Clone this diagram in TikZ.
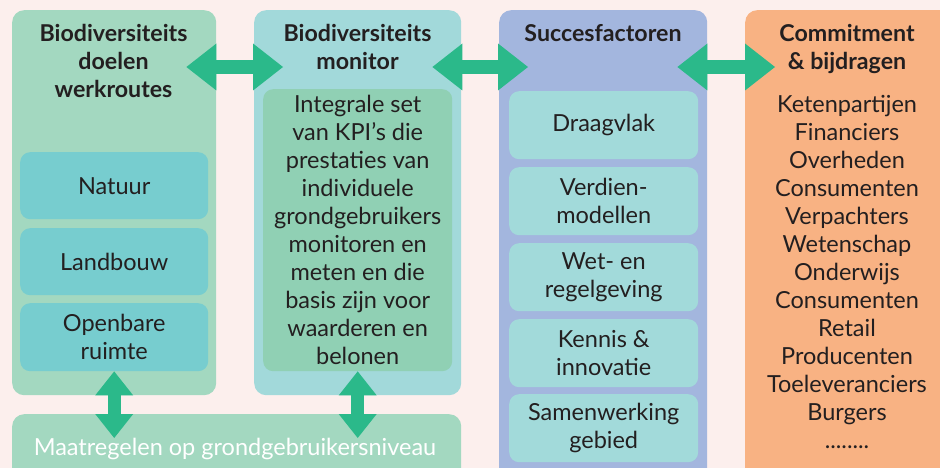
\documentclass[tikz,border=0pt]{standalone}
\usepackage{fontspec}
\setmainfont{Lato}
\usetikzlibrary{arrows.meta}

\definecolor{achtergrond}{HTML}{FCEFED}
\definecolor{doelenkleur}{HTML}{A3D8C0}
\definecolor{monitorkleur}{HTML}{A2D9DA}
\definecolor{succeskleur}{HTML}{A3B6DE}
\definecolor{commitkleur}{HTML}{F8B283}
\definecolor{werkroutekleur}{HTML}{77CDCF}
\definecolor{kpikleur}{HTML}{90D0B4}
\definecolor{factorkleur}{HTML}{A2DADA}
\definecolor{pijlgroen}{HTML}{2BB98A}
\definecolor{tekstkleur}{HTML}{231F20}

\tikzset{
  kolom/.style={rectangle, rounded corners=12pt, anchor=north west, inner sep=0pt},
  vakje/.style={rectangle, rounded corners=10pt, anchor=north west, inner sep=0pt, align=center,
    text=tekstkleur, font=\fontsize{23.5}{28}\selectfont},
  titel/.style={anchor=base, align=center, inner sep=0pt, text=tekstkleur,
    font=\fontsize{23.2}{28}\selectfont\bfseries},
  lijst/.style={anchor=base, align=center, inner sep=0pt, text=tekstkleur,
    font=\fontsize{23.5}{28}\selectfont},
  harrow/.style={draw=pijlgroen, line width=14pt,
    arrows={Triangle[length=30pt,width=47pt,line width=0pt]-Triangle[length=30pt,width=47pt,line width=0pt]}},
  varrow/.style={draw=pijlgroen, line width=13pt,
    arrows={Triangle[length=24pt,width=38pt,line width=0pt]-Triangle[length=24pt,width=38pt,line width=0pt]}}
}

\begin{document}
\begin{tikzpicture}[x=1pt,y=-1pt]

\useasboundingbox (0,0) rectangle (940,468);
\clip (0,0) rectangle (940,468);
\fill[achtergrond] (0,0) rectangle (940,468);

%---------------------------------------------------------------
% kolommen
\node (doelen) at (12,10) [kolom, fill=doelenkleur, minimum width=204pt, minimum height=385pt] {};
\node (monitor) at (254,10) [kolom, fill=monitorkleur, minimum width=207pt, minimum height=385pt] {};
\node (succes) at (499,10) [kolom, fill=succeskleur, minimum width=208pt, minimum height=475pt] {};
\node (commitment) at (745,10) [kolom, fill=commitkleur, minimum width=208pt, minimum height=475pt] {};
\node (maatregelen) at (12,414) [kolom, fill=doelenkleur, minimum width=449pt, minimum height=70pt] {};

%---------------------------------------------------------------
% titels (base = laatste regel)
\node (doelenTitel) at (113.5,98) [titel] {Biodiversiteits\\doelen\\werkroutes};
\node (monitorTitel) at (357.5,70) [titel] {Biodiversiteits\\monitor};
\node (succesTitel) at (603,42) [titel] {Succesfactoren};
\node (commitTitel) at (847,70) [titel] {Commitment\\\& bijdragen};

%---------------------------------------------------------------
% werkroutes
\node (natuur) at (20,152) [vakje, fill=werkroutekleur, minimum width=188pt, minimum height=67pt] {Natuur};
\node (landbouw) at (20,228) [vakje, fill=werkroutekleur, minimum width=188pt, minimum height=67pt] {Landbouw};
\node (openbaar) at (20,303) [vakje, fill=werkroutekleur, minimum width=188pt, minimum height=68pt] {Openbare\\ruimte};

% monitor
\node (kpi) at (263,89) [vakje, fill=kpikleur, minimum width=189pt, minimum height=282pt]
  {Integrale set\\van KPI’s die\\prestaties van\\individuele\\grondgebruikers\\monitoren en\\meten en die\\basis zijn voor\\waarderen en\\belonen};

% succesfactoren
\node (draagvlak) at (509,91) [vakje, fill=factorkleur, minimum width=189pt, minimum height=68pt] {Draagvlak};
\node (verdien) at (509,167) [vakje, fill=factorkleur, minimum width=189pt, minimum height=68pt] {Verdien-\\modellen};
\node (wetgeving) at (509,243) [vakje, fill=factorkleur, minimum width=189pt, minimum height=68pt] {Wet- en\\regelgeving};
\node (kennis) at (509,319) [vakje, fill=factorkleur, minimum width=189pt, minimum height=68pt] {Kennis \&\\innovatie};
\node (samenwerking) at (509,394) [vakje, fill=factorkleur, minimum width=189pt, minimum height=68pt] {Samenwerking\\gebied};

% commitment
\node (partijen) at (847,448) [lijst]
  {Ketenpartijen\\Financiers\\Overheden\\Consumenten\\Verpachters\\Wetenschap\\Onderwijs\\Consumenten\\Retail\\Producenten\\Toeleveranciers\\Burgers\\........};

\node (maatregelenTekst) at (235,455) [lijst, text=white] {Maatregelen op grondgebruikersniveau};

%---------------------------------------------------------------
% pijlen
\coordinate (pijlrij) at (0,67);
\draw[harrow] ([xshift=-30pt]doelen.east |- pijlrij) -- ([xshift=29pt]monitor.west |- pijlrij);
\draw[harrow] ([xshift=-29pt]monitor.east |- pijlrij) -- ([xshift=29pt]succes.west |- pijlrij);
\draw[harrow] ([xshift=-30pt]succes.east |- pijlrij) -- ([xshift=30pt]commitment.west |- pijlrij);

\draw[varrow] ([yshift=24pt]doelen.south) -- ([yshift=-24pt]doelen.south |- maatregelen.north);
\draw[varrow] ([yshift=24pt]monitor.south) -- ([yshift=-24pt]monitor.south |- maatregelen.north);

\end{tikzpicture}
\end{document}
